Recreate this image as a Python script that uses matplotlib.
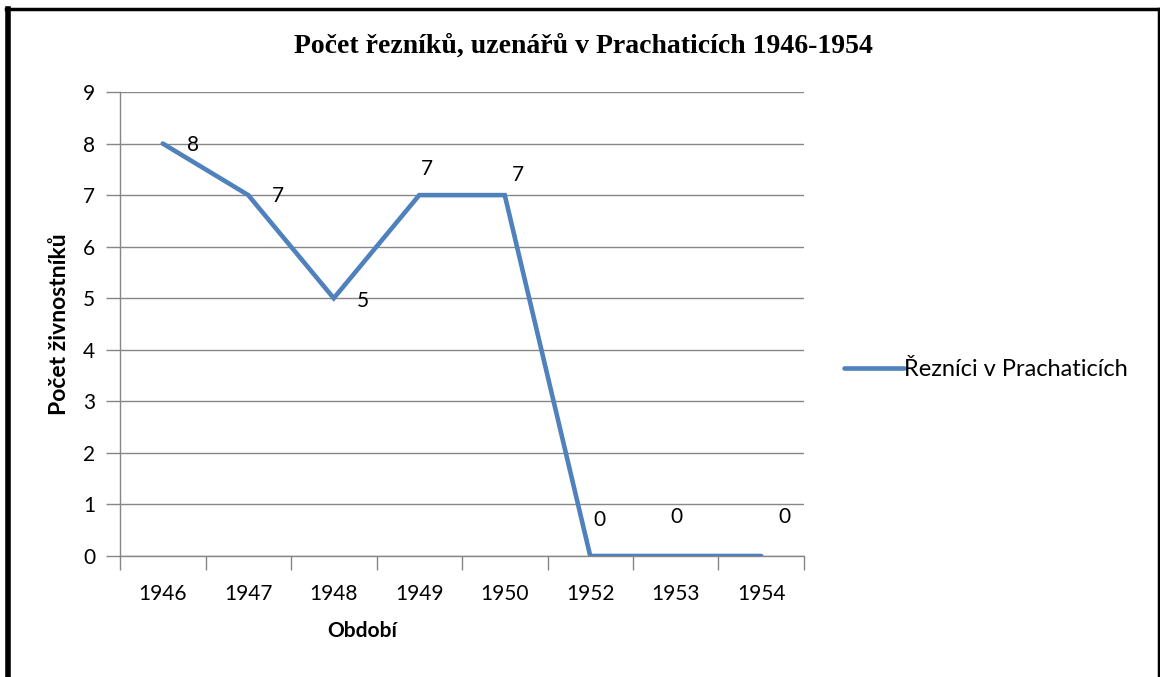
import numpy as np
import matplotlib
matplotlib.use('Agg')
import matplotlib.pyplot as plt
from matplotlib.lines import Line2D

years = ['1946', '1947', '1948', '1949', '1950', '1952', '1953', '1954']
butchers = [8, 7, 5, 7, 7, 0, 0, 0]
series_name = 'Řezníci v Prachaticích'
title = 'Počet řezníků, uzenářů v Prachaticích 1946-1954'
xlabel = 'Období'
ylabel = 'Počet živnostníků'

# label offsets in pixels (dx, dy)
label_offsets = [(30, -1), (30, -1), (29, -3), (8, 26), (13, 20), (9, 36), (1, 39), (23, 39)]

W, H = 1160, 677
sans = ['Lato', 'DejaVu Sans']
serif = ['Liberation Serif', 'DejaVu Serif']
blue = '#4F81BD'
grey = '#868686'

fig = plt.figure(figsize=(W / 100, H / 100), dpi=100)
ax = fig.add_axes([120 / W, 1 - 556 / H, (804 - 120) / W, (556 - 92) / H])

x = np.arange(len(years))
line, = ax.plot(x, butchers, color=blue, lw=3.3, solid_capstyle='round',
                solid_joinstyle='miter', label=series_name, zorder=3)

for xi, yi, (dx, dy) in zip(x, butchers, label_offsets):
    ax.annotate(str(yi), (xi, yi), xytext=(dx, dy), textcoords='offset pixels',
                ha='center', va='center', fontsize=15, family=sans)

ax.set_xlim(-0.5, len(years) - 0.5)
ax.set_ylim(0, 9)
ax.set_yticks(range(0, 10))
ax.set_xticks(x)
ax.set_xticklabels(years)
ax.set_xticks(np.arange(-0.5, len(years)), minor=True)
ax.tick_params(axis='x', which='major', length=0, pad=20, labelsize=15)
ax.tick_params(axis='x', which='minor', length=10, color=grey, width=1)
ax.tick_params(axis='y', length=10, color=grey, width=1, pad=8, labelsize=15)
for lab in ax.get_xticklabels() + ax.get_yticklabels():
    lab.set_family(sans)

ax.grid(axis='y', color=grey, lw=1)
ax.set_axisbelow(True)
for s in ['top', 'right']:
    ax.spines[s].set_visible(False)
for s in ['left', 'bottom']:
    ax.spines[s].set_color(grey)
    ax.spines[s].set_linewidth(1)

fig.text(583 / W, 1 - 46 / H, title, ha='center', va='center',
         fontsize=20, fontweight='bold', family=serif)
fig.text(362 / W, 1 - 631 / H, xlabel, ha='center', va='center',
         fontsize=15, fontweight='bold', family=sans)
fig.text(60 / W, 1 - 324 / H, ylabel, ha='center', va='center', rotation=90,
         fontsize=16.5, fontweight='bold', family=sans)

fig.legend(handles=[line], loc='center left', bbox_to_anchor=(823 / W, 1 - 370 / H),
           frameon=False, handlelength=2.55, handletextpad=0.0,
           prop={'family': sans, 'size': 17})

# outer frame (no bottom edge in the reference)
fig.add_artist(Line2D([7.5 / W, 7.5 / W], [0, 1 - 8.5 / H], color='black', lw=4))
fig.add_artist(Line2D([6 / W, 1159 / W], [1 - 8.5 / H, 1 - 8.5 / H], color='black', lw=2.5))
fig.add_artist(Line2D([1158.5 / W, 1158.5 / W], [0, 1 - 8.5 / H], color='black', lw=2.5))

fig.savefig('out.png', dpi=100)
